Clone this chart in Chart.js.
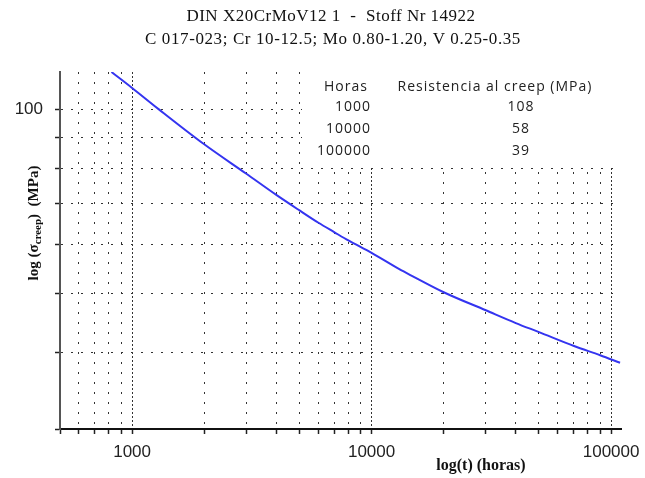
<!DOCTYPE html>
<html>
<head>
<meta charset="utf-8">
<script src="https://cdn.jsdelivr.net/npm/chart.js@4.4.1/dist/chart.umd.min.js"></script>
<style>
  html, body { margin: 0; padding: 0; background: #fff; }
</style>
</head>
<body>
<canvas id="creepChart" width="645" height="478"></canvas>
<script>
// title
const titleLines = ['DIN X20CrMoV12 1  -  Stoff Nr 14922', 'C 017-023; Cr 10-12.5; Mo 0.80-1.20, V 0.25-0.35'];

// creep curve (hours, MPa)
const hours  = [820, 1000, 1290, 2000, 3000, 4000, 5000, 6000, 7000, 8000, 10000, 13000, 15000, 20000, 30000, 40000, 50000, 70000, 90000, 109000];
const stress = [115, 108.3, 100, 87.6, 78.4, 72.4, 68.3, 65.2, 62.9, 61.0, 58.2, 54.8, 53.2, 50.2, 46.9, 44.7, 43.2, 41.0, 39.6, 38.5];

// axis ticks
const xTicks = [500, 600, 700, 800, 900, 1000, 2000, 3000, 4000, 5000, 6000, 7000, 8000, 9000, 10000,
                20000, 30000, 40000, 50000, 60000, 70000, 80000, 90000, 100000];
const xLabels = [1000, 10000, 100000];
const yTicks = [30, 40, 50, 60, 70, 80, 90, 100];
const yLabels = [100];

// inset table
const tableHead = ['Horas', 'Resistencia al creep (MPa)'];
const tableHours = ['1000', '10000', '100000'];
const tableStress = ['108', '58', '39'];

const points = hours.map((h, i) => ({ x: h, y: stress[i] }));

const tablePlugin = {
  id: 'creepTable',
  beforeDatasetsDraw(chart) {
    const c = chart.ctx;
    c.save();
    c.fillStyle = '#fff';
    c.fillRect(302, 72, 322, 96);
    c.fillStyle = '#222';
    c.font = '14px "Open Sans"';
    c.letterSpacing = '1px';
    c.textBaseline = 'middle';
    c.textAlign = 'center';
    c.fillText(tableHead[0], 346, 87);
    c.fillText(tableHead[1], 495, 87);
    const rowY = [107, 129, 151];
    tableHours.forEach((h, i) => {
      c.textAlign = 'right';
      c.fillText(h, 371, rowY[i]);
      c.textAlign = 'center';
      c.fillText(tableStress[i], 521, rowY[i]);
    });
    c.letterSpacing = '0px';
    c.restore();
  }
};

const textPlugin = {
  id: 'texts',
  afterDraw(chart) {
    const c = chart.ctx;
    c.save();
    c.fillStyle = '#111';
    c.textBaseline = 'middle';
    c.textAlign = 'center';

    // title
    c.font = '17px "Liberation Serif"';
    c.letterSpacing = '0.5px';
    c.fillText(titleLines[0], 331, 17);
    c.letterSpacing = '0.6px';
    c.fillText(titleLines[1], 333, 40);
    c.letterSpacing = '0px';

    c.font = 'bold 16px "Liberation Serif"';
    c.fillText('log(t) (horas)', 481, 466);

    // y title with subscript
    c.translate(34, 223);
    c.rotate(-Math.PI / 2);
    const big = 'bold 15px "Liberation Serif"';
    const small = 'bold 11px "Liberation Serif"';
    const parts = [['log (σ', big, 0], ['creep', small, 4], [')  (MPa)', big, 0]];
    let total = 0;
    parts.forEach(p => { c.font = p[1]; total += c.measureText(p[0]).width; });
    let x = -total / 2;
    c.textAlign = 'left';
    parts.forEach(p => {
      c.font = p[1];
      c.fillText(p[0], x, p[2]);
      x += c.measureText(p[0]).width;
    });
    c.restore();
  }
};

const decade = v => v === 1000 || v === 10000 || v === 100000;

new Chart(document.getElementById('creepChart').getContext('2d'), {
  type: 'line',
  data: {
    datasets: [{
      data: points,
      borderColor: '#3434f0',
      borderWidth: 2,
      pointRadius: 0,
      fill: false,
      cubicInterpolationMode: 'monotone'
    }]
  },
  options: {
    responsive: false,
    animation: false,
    layout: { padding: { left: 0, right: 24, top: 72, bottom: 0 } },
    plugins: {
      legend: { display: false },
      tooltip: { enabled: false },
      title: { display: false }
    },
    scales: {
      x: {
        type: 'logarithmic',
        min: 500,
        max: 110000,
        afterBuildTicks: s => { s.ticks = xTicks.map(v => ({ value: v })); },
        afterFit: s => { s.height = 49; s.paddingLeft = 0; s.paddingRight = 0; },
        ticks: {
          autoSkip: false,
          maxRotation: 0,
          color: '#222',
          padding: 8,
          font: { family: 'Liberation Sans', size: 17 },
          callback: v => xLabels.includes(v) ? String(v) : ''
        },
        grid: { color: '#333', lineWidth: 1, tickLength: 5, tickColor: '#222', tickWidth: 1.5 },
        border: {
          color: '#111',
          width: 2,
          dash: c => (c.tick && decade(c.tick.value)) ? [2, 2] : [2, 8]
        }
      },
      y: {
        type: 'logarithmic',
        min: 30,
        max: 115,
        afterBuildTicks: s => { s.ticks = yTicks.map(v => ({ value: v })); },
        afterFit: s => { s.width = 60; },
        ticks: {
          autoSkip: false,
          color: '#222',
          padding: 12,
          font: { family: 'Liberation Sans', size: 17 },
          callback: v => yLabels.includes(v) ? String(v) : ''
        },
        grid: { color: '#333', lineWidth: 1, tickLength: 5, tickColor: '#222', tickWidth: 1.5 },
        border: { color: '#555', width: 2, dash: [2, 8] }
      }
    }
  },
  plugins: [tablePlugin, textPlugin]
});
</script>
</body>
</html>
